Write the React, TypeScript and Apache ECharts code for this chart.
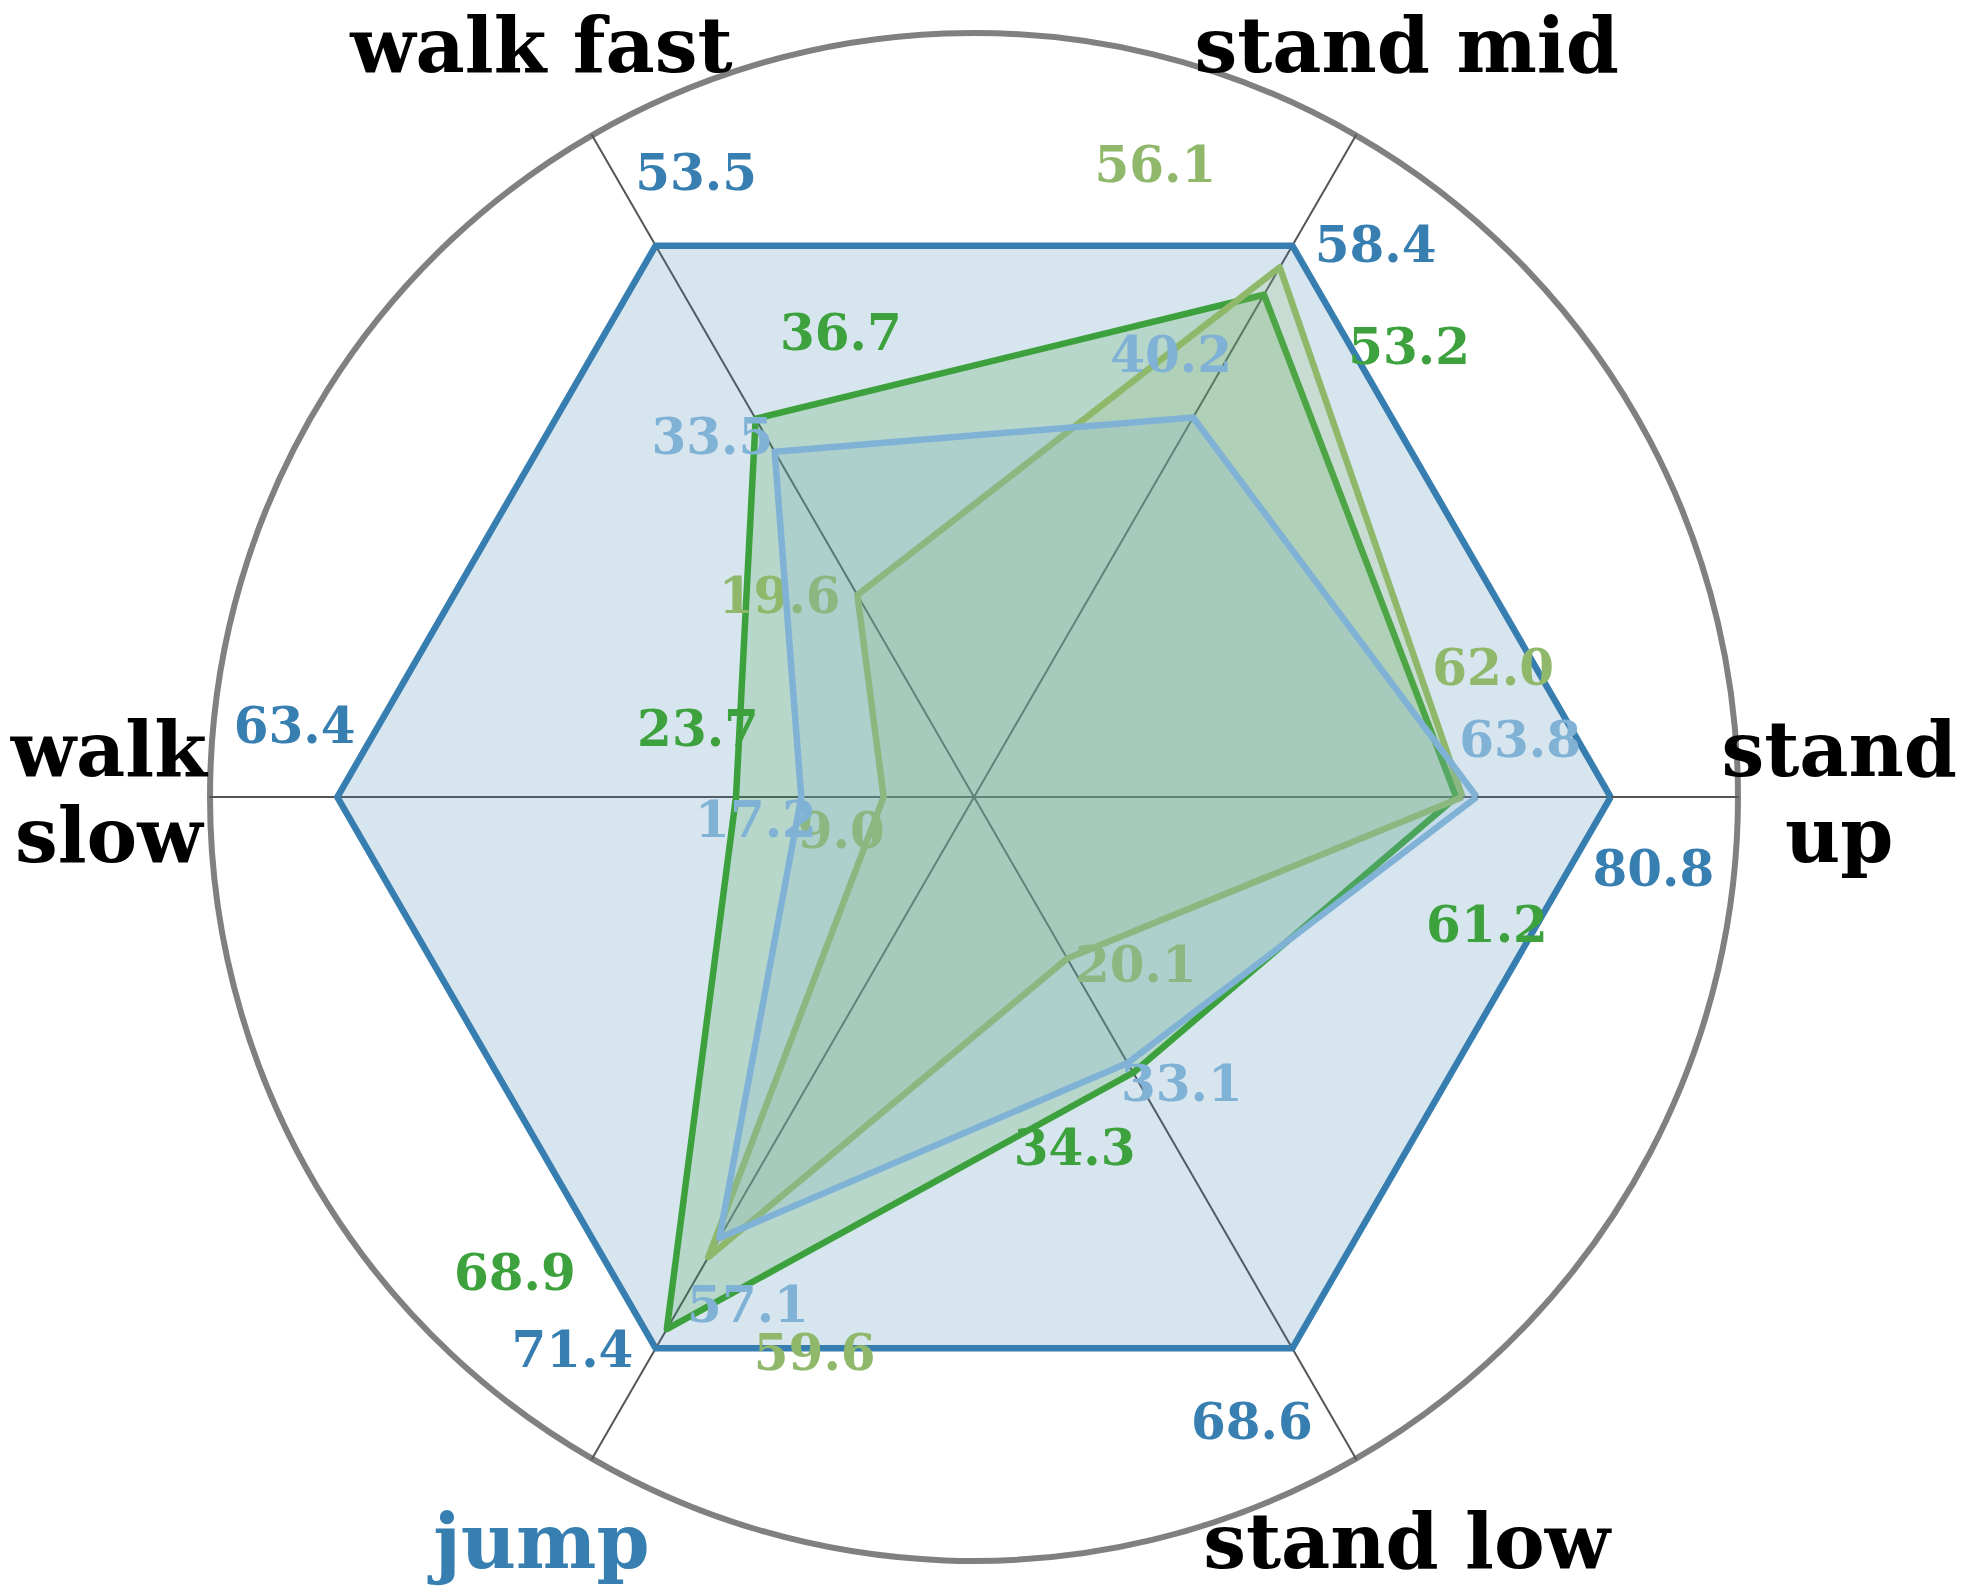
import React, { useEffect, useRef } from "react";
import * as echarts from "echarts";

const axes = ["stand\nup", "stand mid", "walk fast", "walk\nslow", "jump", "stand low"];
const axisAngles = [0, 60, 120, 180, 240, 300];
const axisNameColors = ["#000000", "#000000", "#000000", "#000000", "#377eb1", "#000000"];

const seriesNames = ["A", "B", "C", "D"];
const darkBlue = [80.8, 58.4, 53.5, 63.4, 71.4, 68.6];
const green = [61.2, 53.2, 36.7, 23.7, 68.9, 34.3];
const lightGreen = [62.0, 56.1, 19.6, 9.0, 59.6, 20.1];
const lightBlue = [63.8, 40.2, 33.5, 17.2, 57.1, 33.1];
const seriesValues = [darkBlue, green, lightGreen, lightBlue];
const seriesColors = ["#377eb1", "#3da23d", "#8fb86b", "#80b2d6"];
const labelAngleOffsets = [-6, -14, 14, 6];

const RMAX = 1.2;
const POLAR_MAX = 1.45;
const LABEL_GAP = 0.073;
const NAME_R = 1.359;
const FONT = "DejaVu Serif";
const CX = 974;
const CY = 797;
const R = 764;

export default function App() {
  const ref = useRef<HTMLDivElement>(null);
  useEffect(() => {
    if (!ref.current) return;
    const chart = echarts.init(ref.current, undefined, { renderer: "svg" });
    const axisMax = axes.map((_, i) => Math.max(...seriesValues.map((s) => s[i])));

    const radarSeries: any[] = seriesValues.map((vals, k) => ({
      type: "radar",
      radarIndex: 0,
      z: 2 + k * 2,
      symbol: "none",
      lineStyle: { color: seriesColors[k], width: 6.5, opacity: 1 },
      areaStyle: { color: seriesColors[k], opacity: 0.2 },
      itemStyle: { color: seriesColors[k] },
      data: [{ name: seriesNames[k], value: vals }],
    }));

    const labelSeries: any[] = seriesValues.map((vals, k) => ({
      type: "scatter",
      coordinateSystem: "polar",
      z: 3 + k * 2,
      symbolSize: 1,
      clip: false,
      itemStyle: { color: "rgba(0,0,0,0)", opacity: 1 },
      silent: true,
      data: vals.map((v, i) => {
        let a = axisAngles[i] + labelAngleOffsets[k];
        a = ((a % 360) + 360) % 360;
        return {
          value: [v / axisMax[i] + LABEL_GAP, a],
          label: {
            show: true,
            position: "inside",
            formatter: v.toFixed(1),
            color: seriesColors[k],
            opacity: 1,
            fontFamily: FONT,
            fontWeight: "bold",
            fontSize: 50,
          },
        };
      }),
    }));

    const nameSeries = {
      type: "scatter",
      coordinateSystem: "polar",
      z: 20,
      symbolSize: 1,
      clip: false,
      itemStyle: { color: "rgba(0,0,0,0)", opacity: 1 },
      silent: true,
      data: axes.map((n, i) => ({
        value: [NAME_R, axisAngles[i]],
        label: {
          show: true,
          position: "inside",
          offset: [0, axisAngles[i] > 0 && axisAngles[i] < 180 ? -2 : -5],
          formatter: n,
          color: axisNameColors[i],
          opacity: 1,
          fontFamily: FONT,
          fontWeight: "bold",
          fontSize: 76,
          lineHeight: n.indexOf("\n") >= 0 ? 86 : 76,
          align: "center",
          verticalAlign: "middle",
        },
      })),
    };

    chart.setOption({
      animation: false,
      backgroundColor: "#ffffff",
      radar: {
        center: [CX, CY],
        radius: R,
        startAngle: 0,
        shape: "circle",
        splitNumber: 1,
        axisName: { show: false },
        splitLine: { show: true, lineStyle: { color: "#808080", width: 6 } },
        splitArea: { show: false },
        axisLine: { show: true, lineStyle: { color: "#555555", width: 2 } },
        axisTick: { show: false },
        axisLabel: { show: false },
        indicator: axes.map((n, i) => ({ name: n, min: 0, max: axisMax[i] * RMAX })),
      },
      polar: { center: [CX, CY], radius: (R * POLAR_MAX) / RMAX },
      angleAxis: {
        type: "value",
        min: 0,
        max: 360,
        startAngle: 0,
        clockwise: false,
        show: false,
      },
      radiusAxis: { type: "value", min: 0, max: POLAR_MAX, show: false },
      series: [...radarSeries, ...labelSeries, nameSeries],
    });
    return () => chart.dispose();
  }, []);
  return (
    <div
      ref={ref}
      style={{ position: "absolute", left: 0, top: 0, width: 1970, height: 1595 }}
    />
  );
}
